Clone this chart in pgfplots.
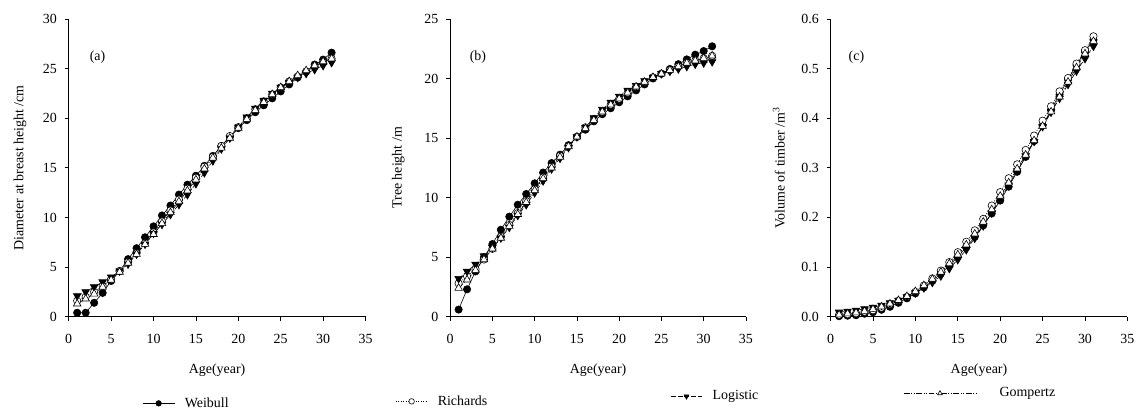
\documentclass[border=0pt]{standalone}
\usepackage{pgfplots}
\pgfplotsset{compat=1.18}
\usepackage{pgfplotstable}
\usepackage{fontspec}
\setmainfont{Liberation Serif}

\pgfplotstableread{
age wei ric log gom
1 0.4 1.6 2.1 1.3
2 0.4 2.0 2.5 1.8
3 1.4 2.5 3.0 2.3
4 2.4 3.1 3.5 3.0
5 3.6 3.8 4.0 3.7
6 4.6 4.6 4.6 4.5
7 5.8 5.5 5.3 5.4
8 6.9 6.4 6.3 6.3
9 8.0 7.4 7.3 7.3
10 9.1 8.5 8.4 8.3
11 10.2 9.6 9.3 9.4
12 11.2 10.7 10.3 10.5
13 12.3 11.8 11.3 11.6
14 13.3 12.9 12.3 12.7
15 14.2 14.0 13.4 13.8
16 15.2 15.1 14.5 14.9
17 16.2 16.1 15.7 16.0
18 17.2 17.2 16.9 17.0
19 18.1 18.2 18.0 18.0
20 19.0 19.1 19.1 19.0
21 19.8 20.0 20.1 19.9
22 20.6 20.9 21.0 20.8
23 21.3 21.7 21.8 21.6
24 22.0 22.4 22.5 22.4
25 22.7 23.1 23.1 23.1
26 23.4 23.7 23.6 23.7
27 24.1 24.2 24.1 24.3
28 24.7 24.7 24.5 24.8
29 25.4 25.2 24.9 25.3
30 25.9 25.6 25.3 25.7
31 26.6 26.0 25.6 26.0
}\dbhtable

\pgfplotstableread{
age wei ric log gom
1 0.6 2.8 3.2 2.4
2 2.3 3.4 3.8 3.1
3 3.8 4.0 4.4 3.9
4 5.0 4.8 5.1 4.8
5 6.1 5.7 5.8 5.7
6 7.3 6.7 6.6 6.6
7 8.4 7.7 7.5 7.6
8 9.4 8.7 8.5 8.6
9 10.3 9.7 9.4 9.6
10 11.2 10.7 10.4 10.6
11 12.1 11.7 11.4 11.6
12 12.9 12.6 12.4 12.5
13 13.6 13.5 13.3 13.4
14 14.4 14.3 14.2 14.3
15 15.1 15.1 15.1 15.1
16 15.7 15.9 15.9 15.8
17 16.4 16.6 16.7 16.5
18 17.0 17.2 17.4 17.2
19 17.5 17.8 18.0 17.8
20 18.0 18.3 18.5 18.3
21 18.5 18.8 19.0 18.8
22 19.0 19.3 19.4 19.3
23 19.5 19.7 19.8 19.7
24 20.0 20.1 20.1 20.1
25 20.4 20.4 20.4 20.4
26 20.8 20.7 20.6 20.7
27 21.2 21.0 20.8 21.0
28 21.6 21.3 21.0 21.3
29 22.0 21.5 21.2 21.5
30 22.3 21.7 21.3 21.7
31 22.7 21.9 21.4 21.9
}\heighttable

\pgfplotstableread{
age wei ric log gom
1 0.001 0.004 0.009 0.004
2 0.002 0.005 0.011 0.006
3 0.003 0.007 0.013 0.008
4 0.006 0.010 0.016 0.011
5 0.009 0.013 0.019 0.015
6 0.014 0.018 0.023 0.020
7 0.020 0.025 0.028 0.026
8 0.028 0.032 0.033 0.033
9 0.037 0.040 0.040 0.041
10 0.047 0.050 0.048 0.051
11 0.059 0.063 0.058 0.063
12 0.072 0.077 0.069 0.076
13 0.087 0.093 0.082 0.090
14 0.103 0.110 0.097 0.107
15 0.121 0.130 0.115 0.125
16 0.140 0.151 0.135 0.145
17 0.161 0.174 0.158 0.167
18 0.184 0.197 0.183 0.191
19 0.208 0.224 0.209 0.216
20 0.234 0.251 0.237 0.243
21 0.262 0.279 0.265 0.270
22 0.292 0.307 0.294 0.298
23 0.322 0.336 0.324 0.326
24 0.354 0.365 0.353 0.355
25 0.385 0.395 0.383 0.384
26 0.417 0.424 0.412 0.413
27 0.448 0.454 0.440 0.443
28 0.478 0.481 0.468 0.473
29 0.507 0.510 0.495 0.502
30 0.534 0.537 0.520 0.530
31 0.558 0.565 0.545 0.555
}\voltable

\newcommand{\myfont}{\fontsize{14}{16}\selectfont}

\pgfplotsset{
  panel/.style={
    scale only axis, height=299pt,
    xmin=0, xmax=35, xtick={0,5,...,35}, ymin=0,
    axis x line*=bottom, axis y line*=left,
    axis line style={-, line width=0.7pt, black},
    tick align=outside, major tick length=4pt,
    tick style={line width=0.7pt, black},
    /pgf/number format/assume math mode=true,
    ticklabel style={font=\myfont},
    xticklabel style={yshift=-9pt},
    yticklabel style={xshift=-3pt},
    label style={font=\myfont},
    xlabel={Age(year)},
    xlabel style={at={(axis description cs:0.5,-0.181)}, anchor=center},
    legend style={draw=none, fill=none, inner sep=0pt, outer sep=0pt,
      anchor=west, nodes={inner sep=0pt, font=\myfont}},
    clip=false,
  },
  sWei/.style={black, line width=0.6pt, mark=*, mark size=3.7pt, mark options={solid, fill=black}},
  sRic/.style={black, line width=0.6pt, dash pattern=on 1pt off 1.5pt, mark=*, mark size=3.7pt, mark options={solid, fill=white}},
  sLog/.style={black, line width=0.6pt, dash pattern=on 5pt off 2pt, mark=triangle*, mark size=4.4pt, mark options={solid, fill=black, rotate=180}},
  sGom/.style={black, line width=0.6pt, dash pattern=on 6pt off 1.5pt on 1pt off 1.5pt on 1pt off 1.5pt, mark=triangle*, mark size=4.4pt, mark options={solid, fill=white}},
  shortleg/.style={legend image code/.code={
      \draw[mark repeat=2, mark phase=2, ##1, mark size=2.8pt] plot coordinates {(0pt,0pt) (16pt,0pt) (32pt,0pt)};
      \path (42pt,0pt);}},
  longleg/.style={legend image code/.code={
      \draw[mark repeat=2, mark phase=2, ##1, mark size=2.8pt] plot coordinates {(0pt,0pt) (36.5pt,0pt) (73pt,0pt)};
      \path (96pt,0pt);}},
}

\begin{document}
\myfont
\begin{tikzpicture}
\path (0pt,0pt) rectangle (1139pt,412pt);

% (a)
\begin{axis}[panel, at={(69pt,94pt)}, anchor=south west, width=298pt,
  ymax=30, ytick={0,5,...,30},
  ylabel={Diameter at breast height /cm},
  ylabel style={at={(axis description cs:-0.164,0.5)}, anchor=center},
  shortleg,
  legend style={at={(axis description cs:0.2483,-0.291)}}]
\addplot[sWei] table[x=age,y=wei] {\dbhtable};
\addlegendentry{Weibull}
\addplot[sRic, forget plot] table[x=age,y=ric] {\dbhtable};
\addplot[sLog, forget plot] table[x=age,y=log] {\dbhtable};
\addplot[sGom, forget plot] table[x=age,y=gom] {\dbhtable};
\node[font=\myfont] at (axis description cs:0.097,0.873) {(a)};
\end{axis}

% (b)
\begin{axis}[panel, at={(452pt,94pt)}, anchor=south west, width=297pt,
  ymax=25, ytick={0,5,...,25},
  ylabel={Tree height /m},
  ylabel style={at={(axis description cs:-0.175,0.5)}, anchor=center},
  shortleg,
  legend style={at={(axis description cs:-0.1852,-0.2843)}}]
\addplot[sWei, forget plot] table[x=age,y=wei] {\heighttable};
\addplot[sRic] table[x=age,y=ric] {\heighttable};
\addlegendentry{Richards}
\addplot[sLog, forget plot] table[x=age,y=log] {\heighttable};
\addplot[sGom, forget plot] table[x=age,y=gom] {\heighttable};
\node[font=\myfont] at (axis description cs:0.094,0.873) {(b)};
\end{axis}

% (c)
\begin{axis}[panel, at={(834pt,94pt)}, anchor=south west, width=298pt,
  ymax=0.6, ytick={0,0.1,0.2,0.3,0.4,0.5,0.6},
  yticklabel style={/pgf/number format/.cd, fixed, fixed zerofill, precision=1},
  ylabel={Volume of timber /m\textsuperscript{3}},
  ylabel style={at={(axis description cs:-0.174,0.5)}, anchor=center},
  shortleg,
  legend style={at={(axis description cs:-0.5403,-0.2676)}}]
\addplot[sWei, forget plot] table[x=age,y=wei] {\voltable};
\addplot[sRic, forget plot] table[x=age,y=ric] {\voltable};
\addplot[sLog] table[x=age,y=log] {\voltable};
\addlegendentry{Logistic}
\addplot[sGom, forget plot] table[x=age,y=gom] {\voltable};
\node[font=\myfont] at (axis description cs:0.087,0.873) {(c)};
\end{axis}

% legend holder for Gompertz
\begin{axis}[panel, at={(834pt,94pt)}, anchor=south west, width=298pt,
  hide axis, xlabel={}, ymin=0, ymax=0.6,
  longleg,
  legend style={at={(axis description cs:0.245,-0.2575)}}]
\addlegendimage{sGom}
\addlegendentry{Gompertz}
\end{axis}
\end{tikzpicture}
\end{document}
